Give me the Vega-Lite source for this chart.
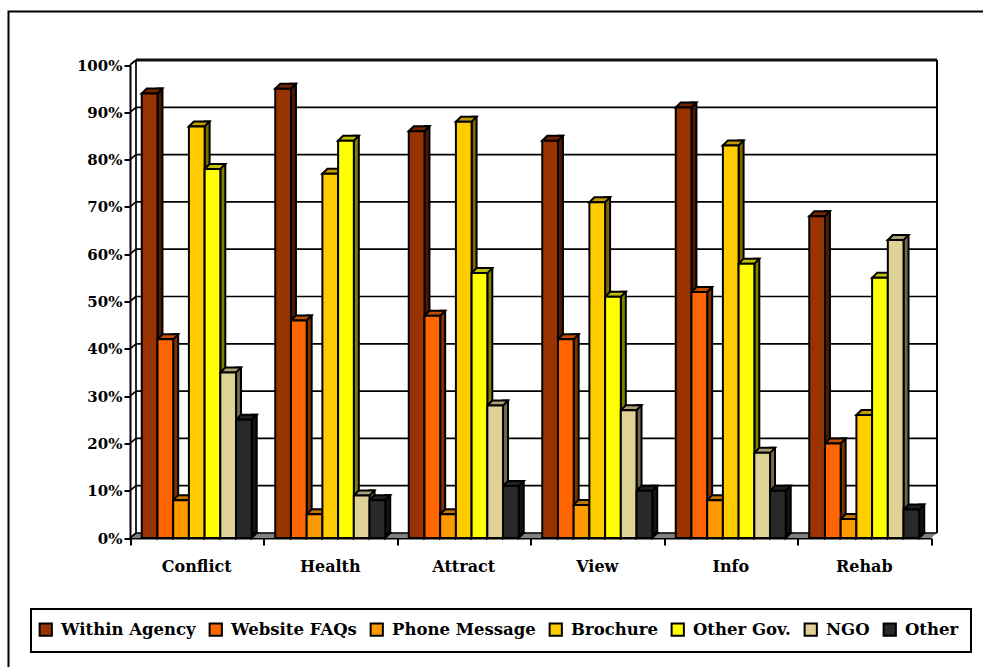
{
  "$schema": "https://vega.github.io/schema/vega-lite/v6.json",
  "width": 1000,
  "height": 680,
  "autosize": {"type": "none"},
  "padding": {"left": 8.5, "top": 11.5, "right": 0, "bottom": 0},
  "background": "white",
  "view": {"stroke": "black", "strokeWidth": 2, "fill": "white"},
  "config": {
    "font": "DejaVu Serif",
    "legend": {"strokeWidth": 2}
  },
  "layer": [
    {
      "data": {"values": [{"share": 0}, {"share": 0.1}, {"share": 0.2}, {"share": 0.3}, {"share": 0.4}, {"share": 0.5}, {"share": 0.6}, {"share": 0.7}, {"share": 0.8}, {"share": 0.9}, {"share": 1}]},
      "layer": [
        {
          "transform": [{"filter": "datum.share === 0"}],
          "mark": {"type": "point", "filled": true, "shape": "M0 0 L6 -5 L807 -5 L801 0 Z", "size": 4, "fill": "#808080", "stroke": null, "opacity": 1},
          "encoding": {
            "x": {"datum": 0, "type": "quantitative", "scale": {"domain": [0, 6], "range": [121.5, 922.5]}, "axis": {"orient": "bottom", "values": [0, 1, 2, 3, 4, 5, 6], "labels": false, "title": null, "grid": false, "offset": -153.5, "domainColor": "black", "domainWidth": 2, "tickColor": "black", "tickWidth": 2, "tickSize": 7}},
            "y": {"field": "share", "type": "quantitative", "scale": {"domain": [0, 1], "range": [526.5, 53.5]}, "axis": {"values": [0, 0.1, 0.2, 0.3, 0.4, 0.5, 0.6, 0.7, 0.8, 0.9, 1], "format": ".0%", "title": null, "grid": false, "offset": -121.5, "labelFont": "DejaVu Serif", "labelFontWeight": "bold", "labelFontSize": 15, "labelColor": "black", "labelPadding": 2, "domainColor": "black", "domainWidth": 2, "tickColor": "black", "tickWidth": 2, "tickSize": 6}}
          }
        },
        {
          "mark": {"type": "rule", "stroke": "black", "strokeWidth": 1.7, "xOffset": 6, "x2Offset": 6, "yOffset": -5, "y2Offset": -5},
          "encoding": {
            "x": {"datum": 0, "type": "quantitative"},
            "x2": {"datum": 6},
            "y": {"field": "share", "type": "quantitative"}
          }
        },
        {
          "mark": {"type": "point", "filled": false, "shape": "M0 0 L6 -5", "size": 4, "stroke": "black", "strokeWidth": 1.7, "opacity": 1},
          "encoding": {
            "x": {"datum": 0, "type": "quantitative"},
            "y": {"field": "share", "type": "quantitative"}
          }
        },
        {
          "transform": [{"filter": "datum.share === 1"}],
          "mark": {"type": "rule", "stroke": "#111111", "strokeWidth": 2.8, "xOffset": 6, "x2Offset": 6, "yOffset": -5, "y2Offset": -5},
          "encoding": {
            "x": {"datum": 0, "type": "quantitative"},
            "x2": {"datum": 6},
            "y": {"field": "share", "type": "quantitative"}
          }
        },
        {
          "transform": [{"filter": "datum.share === 0"}],
          "mark": {"type": "rule", "stroke": "black", "strokeWidth": 1.7, "xOffset": 6, "x2Offset": 6, "yOffset": -5, "y2Offset": -5},
          "encoding": {
            "x": {"datum": 0, "type": "quantitative"},
            "y": {"field": "share", "type": "quantitative"},
            "y2": {"datum": 1}
          }
        },
        {
          "transform": [{"filter": "datum.share === 0"}],
          "mark": {"type": "rule", "stroke": "black", "strokeWidth": 2, "xOffset": 6, "x2Offset": 6, "yOffset": -5, "y2Offset": -5},
          "encoding": {
            "x": {"datum": 6, "type": "quantitative"},
            "y": {"field": "share", "type": "quantitative"},
            "y2": {"datum": 1}
          }
        }
      ]
    },
    {
      "data": {"values": [
        {"topic": "Conflict", "series": "Within Agency", "share": 0.94},
        {"topic": "Conflict", "series": "Website FAQs", "share": 0.42},
        {"topic": "Conflict", "series": "Phone Message", "share": 0.08},
        {"topic": "Conflict", "series": "Brochure", "share": 0.87},
        {"topic": "Conflict", "series": "Other Gov.", "share": 0.78},
        {"topic": "Conflict", "series": "NGO", "share": 0.35},
        {"topic": "Conflict", "series": "Other", "share": 0.25},
        {"topic": "Health", "series": "Within Agency", "share": 0.95},
        {"topic": "Health", "series": "Website FAQs", "share": 0.46},
        {"topic": "Health", "series": "Phone Message", "share": 0.05},
        {"topic": "Health", "series": "Brochure", "share": 0.77},
        {"topic": "Health", "series": "Other Gov.", "share": 0.84},
        {"topic": "Health", "series": "NGO", "share": 0.09},
        {"topic": "Health", "series": "Other", "share": 0.08},
        {"topic": "Attract", "series": "Within Agency", "share": 0.86},
        {"topic": "Attract", "series": "Website FAQs", "share": 0.47},
        {"topic": "Attract", "series": "Phone Message", "share": 0.05},
        {"topic": "Attract", "series": "Brochure", "share": 0.88},
        {"topic": "Attract", "series": "Other Gov.", "share": 0.56},
        {"topic": "Attract", "series": "NGO", "share": 0.28},
        {"topic": "Attract", "series": "Other", "share": 0.11},
        {"topic": "View", "series": "Within Agency", "share": 0.84},
        {"topic": "View", "series": "Website FAQs", "share": 0.42},
        {"topic": "View", "series": "Phone Message", "share": 0.07},
        {"topic": "View", "series": "Brochure", "share": 0.71},
        {"topic": "View", "series": "Other Gov.", "share": 0.51},
        {"topic": "View", "series": "NGO", "share": 0.27},
        {"topic": "View", "series": "Other", "share": 0.10},
        {"topic": "Info", "series": "Within Agency", "share": 0.91},
        {"topic": "Info", "series": "Website FAQs", "share": 0.52},
        {"topic": "Info", "series": "Phone Message", "share": 0.08},
        {"topic": "Info", "series": "Brochure", "share": 0.83},
        {"topic": "Info", "series": "Other Gov.", "share": 0.58},
        {"topic": "Info", "series": "NGO", "share": 0.18},
        {"topic": "Info", "series": "Other", "share": 0.10},
        {"topic": "Rehab", "series": "Within Agency", "share": 0.68},
        {"topic": "Rehab", "series": "Website FAQs", "share": 0.20},
        {"topic": "Rehab", "series": "Phone Message", "share": 0.04},
        {"topic": "Rehab", "series": "Brochure", "share": 0.26},
        {"topic": "Rehab", "series": "Other Gov.", "share": 0.55},
        {"topic": "Rehab", "series": "NGO", "share": 0.63},
        {"topic": "Rehab", "series": "Other", "share": 0.06}
      ]},
      "encoding": {
        "x": {"field": "topic", "type": "nominal", "sort": ["Conflict", "Health", "Attract", "View", "Info", "Rehab"], "scale": {"range": [121.5, 922.5], "paddingInner": 0.176, "paddingOuter": 0.088}, "axis": {"orient": "bottom", "title": null, "ticks": false, "domain": false, "labelAngle": 0, "offset": -153.5, "labelFont": "DejaVu Serif", "labelFontWeight": "bold", "labelFontSize": 16, "labelColor": "black", "labelPadding": 20}},
        "xOffset": {"field": "series", "type": "nominal", "sort": ["Within Agency", "Website FAQs", "Phone Message", "Brochure", "Other Gov.", "NGO", "Other"]}
      },
      "layer": [
        {
          "mark": {"type": "bar", "width": 5, "yOffset": -5, "y2Offset": -5, "stroke": "black", "strokeWidth": 2},
          "encoding": {
            "xOffset": {"field": "series", "type": "nominal", "sort": ["Within Agency", "Website FAQs", "Phone Message", "Brochure", "Other Gov.", "NGO", "Other"], "scale": {"range": [10.35, 120.35]}},
            "y": {"field": "share", "type": "quantitative", "stack": null},
            "y2": {"datum": 0},
            "color": {"field": "series", "type": "nominal", "legend": null, "scale": {"domain": ["Within Agency", "Website FAQs", "Phone Message", "Brochure", "Other Gov.", "NGO", "Other"], "range": ["#4d1a00", "#803300", "#804d00", "#806600", "#808000", "#706a4c", "#151515"]}}
          }
        },
        {
          "mark": {"type": "point", "filled": true, "shape": "M7.85 0 L12.85 -5 L7.85 -5 Z", "size": 4, "stroke": "black", "strokeWidth": 2, "opacity": 1},
          "encoding": {
            "y": {"datum": 0, "type": "quantitative"},
            "color": {"field": "series", "type": "nominal", "legend": null, "scale": {"domain": ["Within Agency", "Website FAQs", "Phone Message", "Brochure", "Other Gov.", "NGO", "Other"], "range": ["#4d1a00", "#803300", "#804d00", "#806600", "#808000", "#706a4c", "#151515"]}}
          }
        },
        {
          "mark": {"type": "point", "filled": true, "shape": "M-7.85 0 L-2.85 -5 L12.85 -5 L7.85 0 Z", "size": 4, "stroke": "black", "strokeWidth": 2, "opacity": 1},
          "encoding": {
            "y": {"field": "share", "type": "quantitative"},
            "color": {"field": "series", "type": "nominal", "legend": null, "scale": {"domain": ["Within Agency", "Website FAQs", "Phone Message", "Brochure", "Other Gov.", "NGO", "Other"], "range": ["#742600", "#c24d00", "#c27400", "#c29b00", "#c2c200", "#aaa073", "#202020"]}}
          }
        },
        {
          "mark": {"type": "bar", "stroke": "black", "strokeWidth": 2},
          "encoding": {
            "y": {"field": "share", "type": "quantitative", "stack": null},
            "y2": {"datum": 0},
            "color": {
              "field": "series",
              "type": "nominal",
              "scale": {"domain": ["Within Agency", "Website FAQs", "Phone Message", "Brochure", "Other Gov.", "NGO", "Other"], "range": ["#993300", "#ff6600", "#ff9900", "#ffcc00", "#ffff00", "#e0d296", "#292929"]},
              "legend": {"orient": "none", "legendX": 22.5, "legendY": 597.5, "direction": "horizontal", "columns": 7, "title": null, "strokeColor": "black", "padding": 12, "columnPadding": 9, "symbolType": "square", "symbolSize": 150, "symbolOffset": -5.5, "symbolStrokeColor": "black", "symbolStrokeWidth": 2, "symbolOpacity": 1, "labelFont": "DejaVu Serif", "labelFontWeight": "bold", "labelFontSize": 16.5, "labelColor": "black", "labelLimit": 300, "labelOffset": 7}
            }
          }
        }
      ],
      "resolve": {"scale": {"color": "independent", "xOffset": "independent"}}
    }
  ],
  "resolve": {"scale": {"x": "independent", "color": "independent"}, "axis": {"x": "independent"}}
}
